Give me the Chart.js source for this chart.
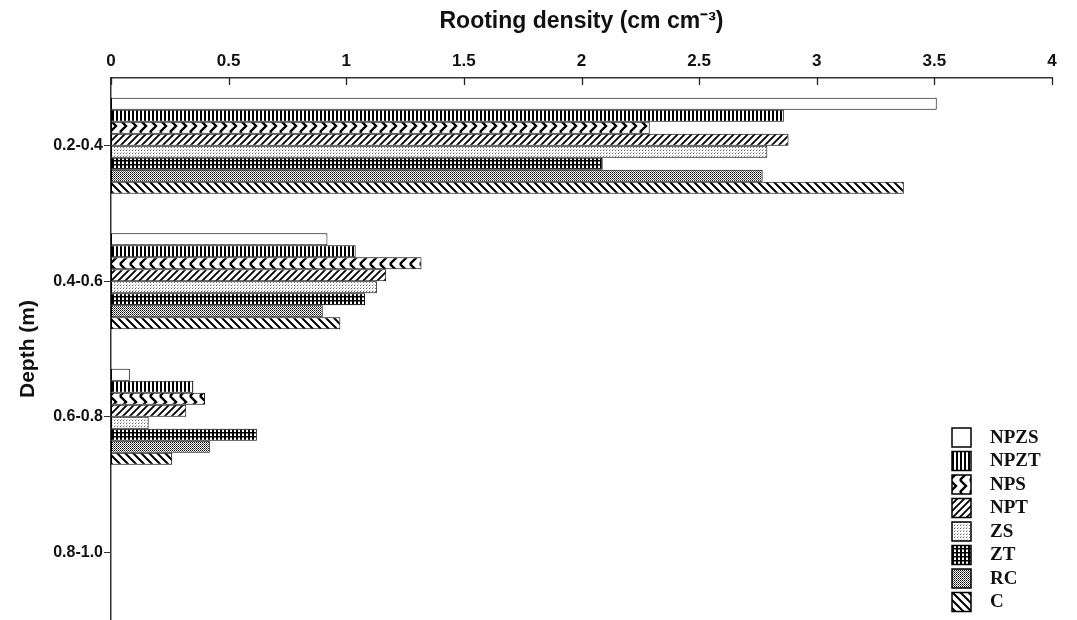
<!DOCTYPE html>
<html>
<head>
<meta charset="utf-8">
<script src="https://cdn.jsdelivr.net/npm/chart.js@4.4.0/dist/chart.umd.min.js"></script>
<style>
  html, body { margin: 0; padding: 0; background: #fff; }
</style>
</head>
<body>
<canvas id="grafico" width="1077" height="620"></canvas>
<script>
// depth classes (y categories) and treatments (series)
const profundidades = ['0.2-0.4', '0.4-0.6', '0.6-0.8', '0.8-1.0'];
const tratamentos = ['NPZS', 'NPZT', 'NPS', 'NPT', 'ZS', 'ZT', 'RC', 'C'];

// rooting density, cm cm-3, one array per treatment
const npzs = [3.51, 0.92, 0.08, null];
const npzt = [2.86, 1.04, 0.35, null];
const nps  = [2.29, 1.32, 0.40, null];
const npt  = [2.88, 1.17, 0.32, null];
const zs   = [2.79, 1.13, 0.16, null];
const zt   = [2.09, 1.08, 0.62, null];
const rc   = [2.77, 0.90, 0.42, null];
const cc   = [3.37, 0.975, 0.26, null];

const ticksX = [0, 0.5, 1, 1.5, 2, 2.5, 3, 3.5, 4];

// small canvas tiles used as fill patterns
function padrao(w, h, desenho) {
  const cv = document.createElement('canvas');
  cv.width = w; cv.height = h;
  const g = cv.getContext('2d');
  g.fillStyle = '#fff';
  g.fillRect(0, 0, w, h);
  g.fillStyle = '#000';
  g.strokeStyle = '#000';
  desenho(g, w, h);
  return g.createPattern(cv, 'repeat');
}

const preenchimentos = [
  '#fff',
  // vertical stripes
  padrao(4, 4, g => { g.fillRect(0, 0, 2, 4); }),
  // chevrons
  padrao(10, 12, g => {
    g.lineWidth = 2.4;
    [-10, 0, 10].forEach(dx => {
      g.beginPath();
      g.moveTo(dx, 0); g.lineTo(dx + 6, 6); g.lineTo(dx, 12);
      g.stroke();
    });
  }),
  // forward diagonal
  padrao(7, 7, g => {
    g.lineWidth = 1.8;
    g.beginPath();
    g.moveTo(-1, 8); g.lineTo(8, -1);
    g.moveTo(-1, 1); g.lineTo(1, -1);
    g.moveTo(6, 8); g.lineTo(8, 6);
    g.stroke();
  }),
  // light dots
  padrao(3, 3, g => {
    g.fillStyle = '#666'; g.fillRect(0, 0, 1, 1);
    g.fillStyle = '#bbb'; g.fillRect(1, 2, 1, 1);
  }),
  // grid
  padrao(4, 4, g => { g.fillRect(0, 0, 2, 4); g.fillRect(0, 0, 4, 1.5); }),
  // dark checker
  padrao(2, 2, g => {
    g.fillRect(0, 0, 1, 1);
    g.fillStyle = '#555'; g.fillRect(1, 1, 1, 1);
  }),
  // back diagonal
  padrao(8, 8, g => {
    g.lineWidth = 2;
    g.beginPath();
    g.moveTo(-1, -1); g.lineTo(9, 9);
    g.moveTo(-1, 7); g.lineTo(1, 9);
    g.moveTo(7, -1); g.lineTo(9, 1);
    g.stroke();
  })
];

const series = [npzs, npzt, nps, npt, zs, zt, rc, cc];

// inward tick marks on the top axis + legend box in the lower right
const extras = {
  id: 'extras',
  afterDraw(chart) {
    const { ctx, scales: { x }, chartArea } = chart;
    ctx.save();
    ctx.strokeStyle = '#222';
    ctx.lineWidth = 1.3;
    ticksX.forEach(v => {
      const px = Math.round(x.getPixelForValue(v)) + 0.5;
      ctx.beginPath();
      ctx.moveTo(px, chartArea.top);
      ctx.lineTo(px, chartArea.top + 7);
      ctx.stroke();
    });

    const bx = 952, by = 428, passo = 23.5;
    ctx.font = 'bold 19px "Liberation Serif", serif';
    ctx.textBaseline = 'middle';
    ctx.textAlign = 'left';
    chart.data.datasets.forEach((ds, i) => {
      const y = by + i * passo;
      ctx.fillStyle = ds.backgroundColor;
      ctx.fillRect(bx, y, 19, 19);
      ctx.lineWidth = 1.5;
      ctx.strokeStyle = '#000';
      ctx.strokeRect(bx, y, 19, 19);
      ctx.fillStyle = '#111';
      ctx.fillText(ds.label, 990, y + 10);
    });
    ctx.restore();
  }
};

const ctx = document.getElementById('grafico').getContext('2d');

new Chart(ctx, {
  type: 'bar',
  data: {
    labels: profundidades,
    datasets: tratamentos.map((nome, i) => ({
      label: nome,
      data: series[i],
      backgroundColor: preenchimentos[i],
      borderColor: '#000',
      borderWidth: 1,
      borderSkipped: false,
      barPercentage: 1.0,
      categoryPercentage: 0.71
    }))
  },
  options: {
    indexAxis: 'y',
    responsive: false,
    animation: false,
    layout: { padding: { left: 0, right: 25, top: 0, bottom: 0 } },
    plugins: {
      legend: { display: false },
      tooltip: { enabled: false }
    },
    scales: {
      x: {
        position: 'top',
        min: 0,
        max: 4,
        afterBuildTicks: s => { s.ticks = ticksX.map(v => ({ value: v })); },
        afterFit: s => { s.height = 78; },
        grid: { display: false },
        border: { display: true, color: '#333', width: 1.5 },
        ticks: {
          color: '#111',
          padding: -2,
          callback: v => String(v),
          font: { family: '"Liberation Sans", Arial, sans-serif', size: 17, weight: 'bold' }
        },
        title: {
          display: true,
          text: 'Rooting density (cm cm⁻³)',
          color: '#111',
          padding: { top: 8, bottom: 0 },
          font: { family: '"Liberation Sans", Arial, sans-serif', size: 23, weight: 'bold' }
        }
      },
      y: {
        afterFit: s => { s.width = 111; s.paddingTop = 0; s.paddingBottom = 0; },
        grid: { display: true, drawOnChartArea: false, offset: false, tickLength: 7, color: '#333' },
        border: { display: true, color: '#333', width: 1.5 },
        ticks: {
          color: '#111',
          padding: 1,
          font: { family: '"Liberation Sans", Arial, sans-serif', size: 16, weight: 'bold' }
        },
        title: {
          display: true,
          text: 'Depth (m)',
          color: '#111',
          padding: { top: 16, bottom: 0 },
          font: { family: '"Liberation Sans", Arial, sans-serif', size: 21, weight: 'bold' }
        }
      }
    }
  },
  plugins: [extras]
});
</script>
</body>
</html>
